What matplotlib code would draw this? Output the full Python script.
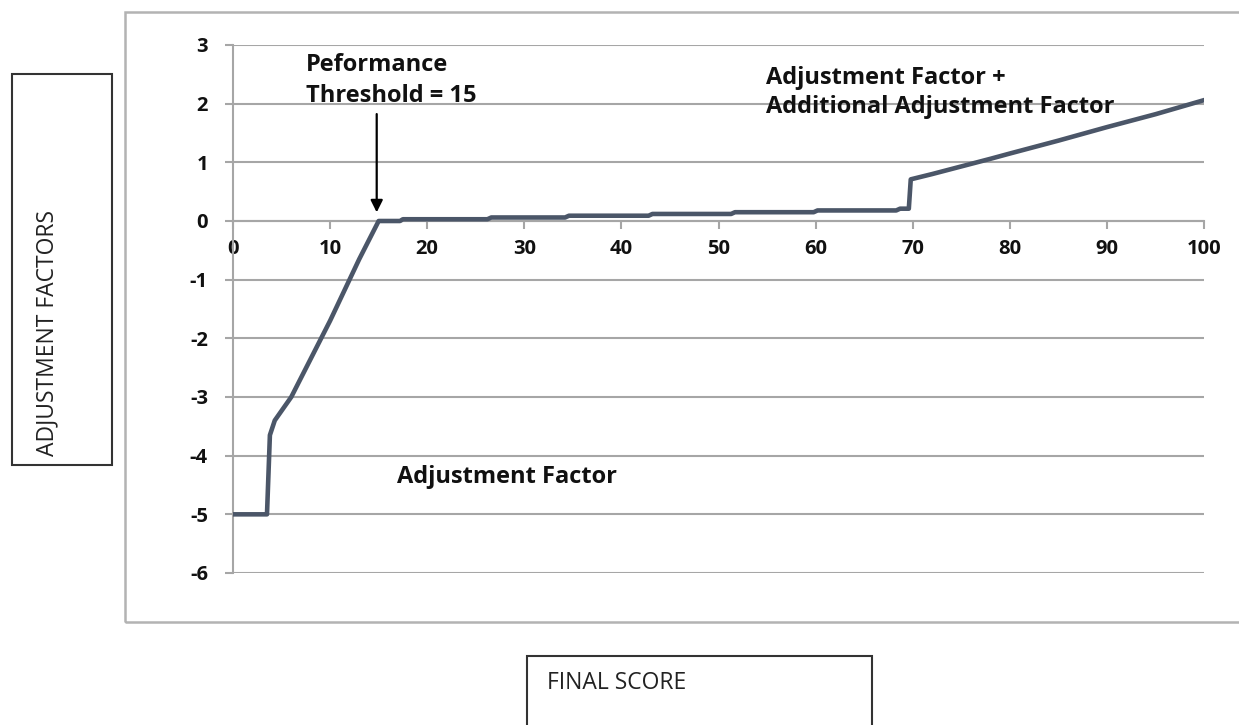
import numpy as np
import matplotlib
matplotlib.use("Agg")
import matplotlib.pyplot as plt
from matplotlib.patches import Rectangle

# --- data ---
score = [0, 3.5, 3.8, 4.3, 6, 8, 10, 11, 12, 13, 15, 17.2, 17.5,
         26.2, 26.6, 34.2, 34.6, 42.8, 43.2, 51.3, 51.7, 59.8, 60.2,
         68.3, 68.7, 69.6, 69.8, 72, 75, 78, 80, 85, 90, 95, 100]
factor = [-5, -5, -3.65, -3.4, -3.0, -2.35, -1.7, -1.35, -1.0, -0.65, 0.0, 0.0, 0.03,
          0.03, 0.06, 0.06, 0.09, 0.09, 0.12, 0.12, 0.15, 0.15, 0.18,
          0.18, 0.21, 0.21, 0.71, 0.8, 0.93, 1.06, 1.15, 1.37, 1.6, 1.82, 2.06]

x_ticks = np.arange(0, 101, 10)
y_ticks = np.arange(-6, 4, 1)

W, H = 1239, 725
plt.rcParams['font.family'] = ['Open Sans', 'DejaVu Sans']
plt.rcParams['axes.unicode_minus'] = False
fig = plt.figure(figsize=(W / 100, H / 100), dpi=100)

# axes placed in pixel terms of the reference
left, right, top, bottom = 233, 1204, 45, 573
ax = fig.add_axes([left / W, 1 - bottom / H, (right - left) / W, (bottom - top) / H])

grid_c = '#a6a6a6'
for yv in y_ticks:
    ax.axhline(yv, color=grid_c, lw=1.5, zorder=1)

ax.plot(score, factor, color='#4b5668', lw=3.3, solid_joinstyle='round', zorder=3)

ax.set_xlim(0, 100)
ax.set_ylim(-6, 3)
ax.set_xticks(x_ticks)
ax.set_yticks(y_ticks)

for s in ['top', 'right']:
    ax.spines[s].set_visible(False)
ax.spines['bottom'].set_position(('data', 0))
ax.spines['bottom'].set_color(grid_c)
ax.spines['bottom'].set_linewidth(1.5)
ax.spines['left'].set_color(grid_c)
ax.spines['left'].set_linewidth(1.5)
ax.tick_params(axis='both', direction='out', length=6, width=1.5, color=grid_c)
ax.tick_params(axis='x', pad=7)
ax.tick_params(axis='y', pad=12)
for lab in ax.get_xticklabels() + ax.get_yticklabels():
    lab.set_fontweight('bold')
    lab.set_fontsize(14.5)
    lab.set_color('#111111')

txt = dict(fontsize=17, fontweight='bold', color='#111111')
ax.text(7.5, 2.86, 'Peformance\nThreshold = 15', va='top', ha='left', linespacing=1.4, **txt)
ax.text(54.9, 2.65, 'Adjustment Factor +\nAdditional Adjustment Factor', va='top', ha='left',
        linespacing=1.33, **txt)
ax.text(16.9, -4.36, 'Adjustment Factor', va='center', ha='left', **txt)
ax.annotate('', xy=(14.8, 0.1), xytext=(14.8, 1.87),
            arrowprops=dict(arrowstyle='-|>', color='black', lw=1.6, mutation_scale=18))

# outer chart frame
fig.patches.append(Rectangle((125 / W, 1 - 622 / H), 1.2, (622 - 12) / H,
                             transform=fig.transFigure, fill=False,
                             edgecolor='#b3b3b3', lw=1.8))
# axis title boxes
fig.patches.append(Rectangle((12 / W, 1 - 465 / H), 100 / W, (465 - 74) / H,
                             transform=fig.transFigure, fill=False,
                             edgecolor='#333333', lw=1.5))
fig.patches.append(Rectangle((527 / W, 1 - 760 / H), 345 / W, (760 - 656) / H,
                             transform=fig.transFigure, fill=False,
                             edgecolor='#333333', lw=1.5))
fig.text(47 / W, 1 - 456 / H, 'ADJUSTMENT FACTORS', rotation=90, ha='center', va='bottom',
         fontsize=16.5, color='#222222')
fig.text(547 / W, 1 - 683 / H, 'FINAL SCORE', ha='left', va='center',
         fontsize=16.5, color='#222222')

fig.savefig('out.png', dpi=100)
